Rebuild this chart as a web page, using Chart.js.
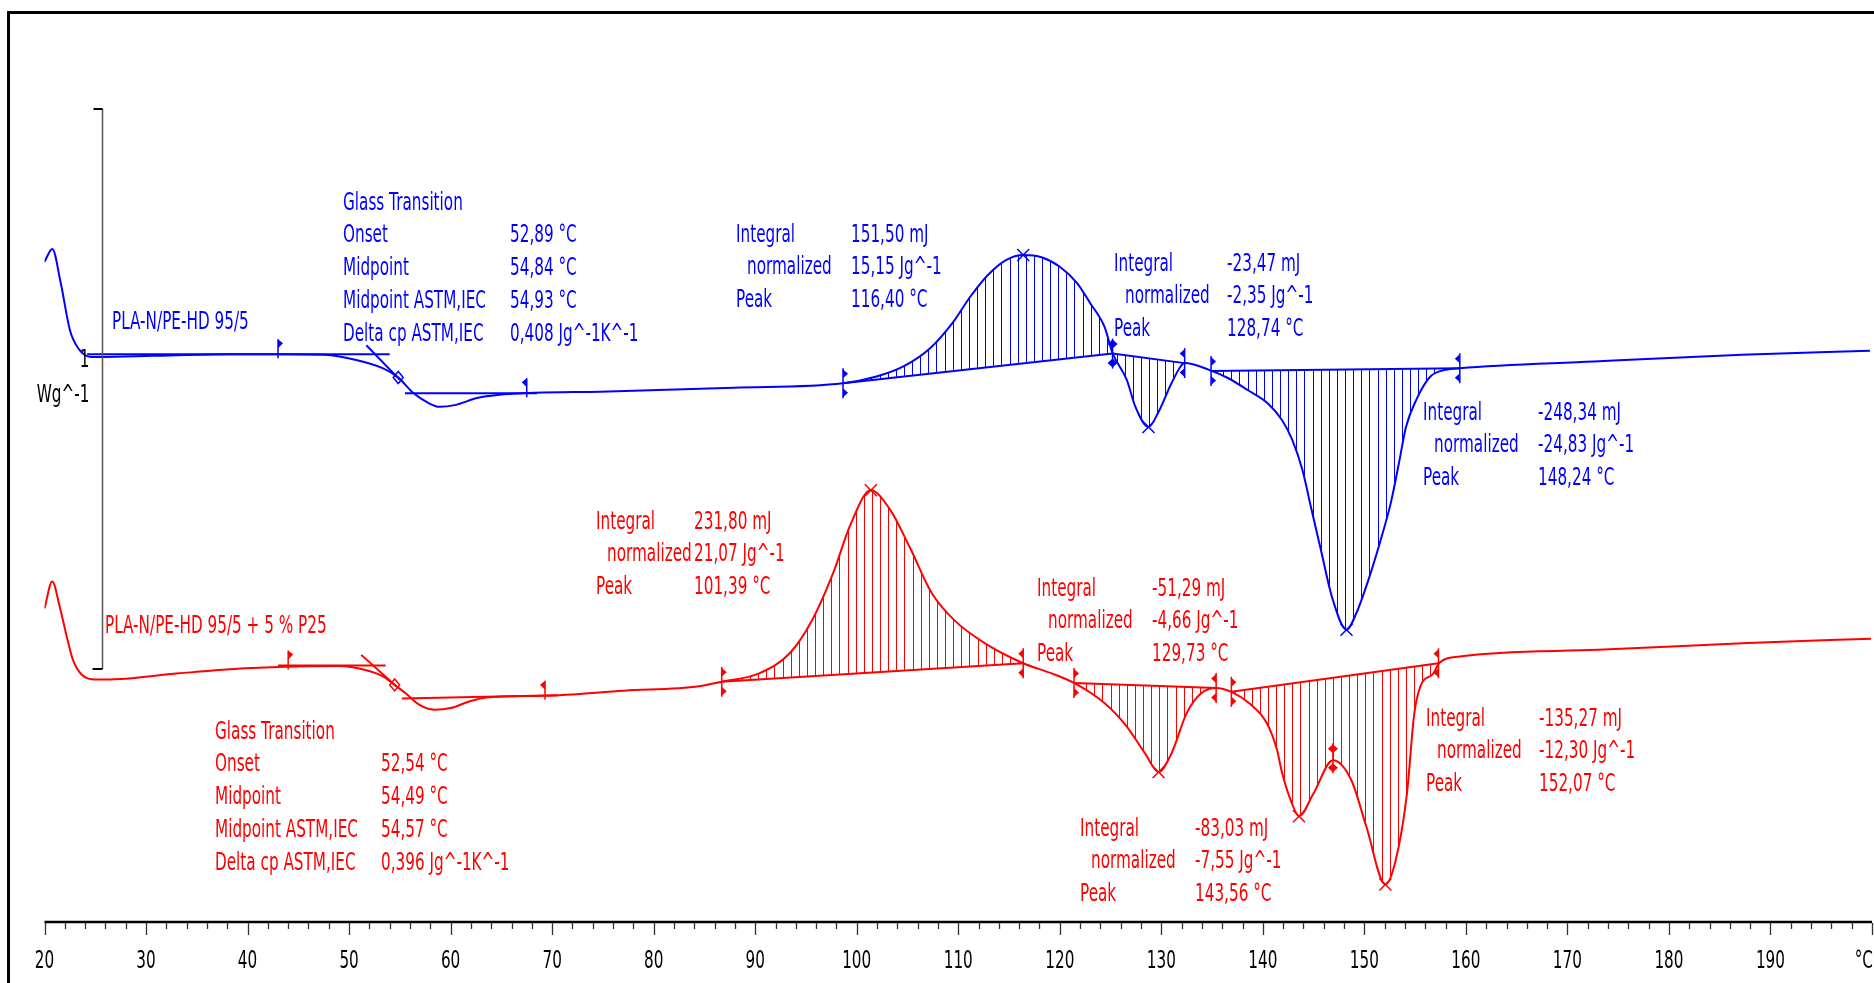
<!DOCTYPE html>
<html>
<head>
<meta charset="utf-8">
<title>DSC PLA-N/PE-HD</title>
<script src="https://cdn.jsdelivr.net/npm/chart.js@4.4.1/dist/chart.umd.min.js"></script>
<style>
    html, body { margin: 0; padding: 0; background: #fff; }
    canvas { display: block; }
</style>
</head>
<body>
<canvas id="dscChart" width="1874" height="983"></canvas>
<script>
/* Messkurven: Temperatur in °C, Wärmestrom in W/g */
const blueT = [20.0, 20.77, 21.6, 22.5, 23.3, 24.6, 25.8, 30.6, 38.2, 43.5, 47.6, 50.6, 53.3, 54.8, 56.3, 57.8, 58.9, 60.4, 62.7, 64.6, 68.4, 74.7, 87.9, 98.65, 101.95, 104.6, 107.2, 109.4, 111.2, 112.9, 114.7, 116.4, 118.2, 120.0, 121.7, 123.0, 124.4, 125.2, 126.6, 127.45, 128.74, 129.65, 131.0, 131.9, 132.3, 134.7, 136.6, 138.5, 140.5, 141.9, 142.9, 143.9, 144.8, 145.8, 146.8, 148.24, 149.2, 150.4, 151.7, 152.6, 153.4, 154.1, 155.1, 156.5, 158.0, 159.4, 172.6, 187.2, 199.8];
const blueHF = [1.179, 1.202, 1.141, 1.057, 1.025, 1.009, 1.009, 1.011, 1.014, 1.014, 1.013, 1.004, 0.989, 0.973, 0.945, 0.927, 0.920, 0.923, 0.936, 0.941, 0.945, 0.947, 0.954, 0.962, 0.974, 0.992, 1.024, 1.069, 1.117, 1.155, 1.182, 1.191, 1.187, 1.170, 1.141, 1.105, 1.063, 1.016, 0.968, 0.920, 0.884, 0.908, 0.962, 0.992, 0.998, 0.986, 0.971, 0.950, 0.926, 0.896, 0.861, 0.807, 0.736, 0.658, 0.581, 0.522, 0.551, 0.611, 0.688, 0.748, 0.819, 0.884, 0.932, 0.974, 0.986, 0.989, 1.001, 1.013, 1.020];

const redT = [20.0, 20.76, 21.5, 22.2, 22.8, 23.7, 25.0, 26.1, 33.2, 39.8, 43.7, 49.0, 51.6, 53.4, 54.3, 55.6, 56.9, 58.4, 60.0, 61.7, 63.5, 69.2, 77.1, 84.5, 86.7, 90.4, 93.4, 95.6, 97.8, 99.3, 101.39, 103.3, 105.2, 107.4, 109.6, 112.6, 116.4, 119.2, 121.4, 124.4, 126.6, 128.4, 129.73, 131.0, 132.5, 133.9, 135.4, 136.9, 138.7, 140.4, 141.4, 141.9, 142.8, 143.56, 145.0, 146.9, 148.7, 150.2, 152.07, 153.1, 154.2, 154.9, 155.5, 156.8, 157.4, 159.4, 173.0, 187.8, 199.9];
const redHF = [0.560, 0.608, 0.563, 0.509, 0.468, 0.441, 0.433, 0.433, 0.444, 0.453, 0.456, 0.457, 0.450, 0.438, 0.426, 0.408, 0.388, 0.379, 0.382, 0.393, 0.401, 0.404, 0.413, 0.421, 0.429, 0.444, 0.480, 0.539, 0.629, 0.706, 0.771, 0.736, 0.670, 0.587, 0.539, 0.498, 0.462, 0.444, 0.427, 0.391, 0.349, 0.301, 0.268, 0.301, 0.373, 0.408, 0.418, 0.411, 0.390, 0.355, 0.307, 0.266, 0.215, 0.189, 0.230, 0.289, 0.254, 0.170, 0.067, 0.111, 0.230, 0.370, 0.420, 0.444, 0.463, 0.474, 0.486, 0.498, 0.506];

/* Glasübergang: Tangenten [T1, HF1, T2, HF2] */
const blueGlassLines = [[24.2, 1.014, 54.0, 1.014], [51.7, 1.030, 55.0, 0.968], [55.5, 0.944, 68.5, 0.944]];
const redGlassLines = [[43.0, 0.458, 53.6, 0.458], [51.2, 0.477, 54.7, 0.420], [55.2, 0.399, 70.5, 0.405]];
const blueGlassFlags = [[43.0, 1.014, 1], [67.5, 0.944, -1]];
const redGlassFlags = [[44.0, 0.458, 1], [69.3, 0.404, -1]];
const blueMidpoint = 54.84;
const redMidpoint = 54.49;

/* Integrale: [T-Start, HF-Start, T-Ende, HF-Ende] */
const blueIntegrals = [[98.65, 0.962, 125.2, 1.015], [125.2, 1.015, 132.3, 0.998], [134.9, 0.984, 159.4, 0.989]];
const redIntegrals = [[86.7, 0.429, 116.4, 0.462], [121.4, 0.427, 135.4, 0.418], [136.9, 0.411, 157.3, 0.462]];
const redSplitT = 146.9;

/* Peaks */
const bluePeaks = [116.40, 128.74, 148.24];
const redPeaks = [101.39, 129.73, 143.56, 152.07];

/* X-Achse */
const tickMinorStep = 2;
const tickLabels = ['20', '30', '40', '50', '60', '70', '80', '90', '100', '110', '120', '130', '140', '150', '160', '170', '180', '190'];

/* Ordinaten-Maßstab 1 Wg^-1 */
const scaleBarT = 25.62;
const scaleBarRange = [0.452, 1.452];

const BLUE = 'rgb(0, 0, 255)';
const RED = 'rgb(255, 0, 0)';
const FONT = '24px "DejaVu Sans"';
const SQUEEZE = 0.635;
const HATCH_STEP = 0.8;

/* Beschriftungen (Pixel-Layout) */
const blueTexts = [
    { x: 112, y: 320, rows: [['PLA-N/PE-HD 95/5']] },
    { x: 343, vx: 510, y: 201, rows: [['Glass Transition', ''], ['Onset', '52,89 °C'], ['Midpoint', '54,84 °C'], ['Midpoint ASTM,IEC', '54,93 °C'], ['Delta cp ASTM,IEC', '0,408 Jg^-1K^-1']] },
    { x: 736, vx: 851, y: 233, rows: [['Integral', '151,50 mJ'], ['  normalized', '15,15 Jg^-1'], ['Peak', '116,40 °C']] },
    { x: 1114, vx: 1227, y: 262, rows: [['Integral', '-23,47 mJ'], ['  normalized', '-2,35 Jg^-1'], ['Peak', '128,74 °C']] },
    { x: 1423, vx: 1538, y: 411, rows: [['Integral', '-248,34 mJ'], ['  normalized', '-24,83 Jg^-1'], ['Peak', '148,24 °C']] },
];
const redTexts = [
    { x: 105, y: 624, rows: [['PLA-N/PE-HD 95/5 + 5 % P25']] },
    { x: 215, vx: 381, y: 730, rows: [['Glass Transition', ''], ['Onset', '52,54 °C'], ['Midpoint', '54,49 °C'], ['Midpoint ASTM,IEC', '54,57 °C'], ['Delta cp ASTM,IEC', '0,396 Jg^-1K^-1']] },
    { x: 596, vx: 694, y: 520, rows: [['Integral', '231,80 mJ'], ['  normalized', '21,07 Jg^-1'], ['Peak', '101,39 °C']] },
    { x: 1037, vx: 1152, y: 587, rows: [['Integral', '-51,29 mJ'], ['  normalized', '-4,66 Jg^-1'], ['Peak', '129,73 °C']] },
    { x: 1426, vx: 1539, y: 717, rows: [['Integral', '-135,27 mJ'], ['  normalized', '-12,30 Jg^-1'], ['Peak', '152,07 °C']] },
    { x: 1080, vx: 1195, y: 827, rows: [['Integral', '-83,03 mJ'], ['  normalized', '-7,55 Jg^-1'], ['Peak', '143,56 °C']] },
];

function interp(ts, vs, t) {
    for (let i = 1; i < ts.length; i++) {
        if (t <= ts[i]) {
            const f = (t - ts[i - 1]) / (ts[i] - ts[i - 1]);
            return vs[i - 1] + f * (vs[i] - vs[i - 1]);
        }
    }
    return vs[vs.length - 1];
}

function drawText(ctx, str, x, cy, color, align = 'left') {
    ctx.save();
    ctx.font = FONT;
    ctx.fillStyle = color;
    ctx.textAlign = align;
    ctx.textBaseline = 'alphabetic';
    ctx.scale(SQUEEZE, 1);
    ctx.fillText(str, x / SQUEEZE, cy + 8.5);
    ctx.restore();
}

function drawBlocks(ctx, blocks, color) {
    blocks.forEach((b) => {
        b.rows.forEach((row, i) => {
            const cy = b.y + i * 32.8;
            const indent = row[0].startsWith('  ') ? 11 : 0;
            drawText(ctx, row[0].trim(), b.x + indent, cy, color);
            if (row[1]) drawText(ctx, row[1], b.vx, cy, color);
        });
    });
}

/* Kurvenpfad genau wie Chart.js (Bezier-Kontrollpunkte) */
function traceCurve(ctx, pts) {
    ctx.moveTo(pts[0].x, pts[0].y);
    for (let i = 1; i < pts.length; i++) {
        const a = pts[i - 1], b = pts[i];
        if (a.cp2x !== undefined && b.cp1x !== undefined) {
            ctx.bezierCurveTo(a.cp2x, a.cp2y, b.cp1x, b.cp1y, b.x, b.y);
        } else {
            ctx.lineTo(b.x, b.y);
        }
    }
}

function drawHatch(chart, dsIndex, ts, vs, regions, color) {
    const { ctx, chartArea, scales: { x, y } } = chart;
    const pts = chart.getDatasetMeta(dsIndex).data;
    regions.forEach(([t0, h0, t1, h1]) => {
        const up = interp(ts, vs, (t0 + t1) / 2) > (h0 + h1) / 2;
        const edge = up ? chartArea.bottom : chartArea.top;
        ctx.save();
        ctx.beginPath();
        traceCurve(ctx, pts);
        ctx.lineTo(pts[pts.length - 1].x, edge);
        ctx.lineTo(pts[0].x, edge);
        ctx.closePath();
        ctx.clip();
        ctx.strokeStyle = color;
        ctx.lineWidth = 1;
        ctx.beginPath();
        for (let t = t0 + HATCH_STEP / 2; t < t1; t += HATCH_STEP) {
            const px = Math.round(x.getPixelForValue(t)) + 0.5;
            const hb = h0 + (h1 - h0) * (t - t0) / (t1 - t0);
            ctx.moveTo(px, y.getPixelForValue(hb));
            ctx.lineTo(px, up ? chartArea.top : chartArea.bottom);
        }
        ctx.stroke();
        ctx.restore();
    });
}

/* Grenzmarke: senkrechter Strich mit Fähnchen oben und unten */
function limitMark(ctx, px, py, dir, color) {
    ctx.save();
    ctx.strokeStyle = color;
    ctx.fillStyle = color;
    ctx.lineWidth = 1.5;
    ctx.beginPath();
    ctx.moveTo(px, py - 15);
    ctx.lineTo(px, py + 15);
    ctx.stroke();
    const dirs = dir === 0 ? [1, -1] : [dir];
    dirs.forEach((d) => {
        [[-14, -5], [5, 14]].forEach(([a, b]) => {
            ctx.beginPath();
            ctx.moveTo(px, py + a);
            ctx.lineTo(px + 5 * d, py + (a + b) / 2);
            ctx.lineTo(px, py + b);
            ctx.closePath();
            ctx.fill();
        });
    });
    ctx.restore();
}

function glassFlag(ctx, px, py, dir, color) {
    ctx.save();
    ctx.strokeStyle = color;
    ctx.fillStyle = color;
    ctx.lineWidth = 1.5;
    ctx.beginPath();
    ctx.moveTo(px, py - 15);
    ctx.lineTo(px, py + 4);
    ctx.stroke();
    ctx.beginPath();
    ctx.moveTo(px, py - 15);
    ctx.lineTo(px + 5 * dir, py - 11);
    ctx.lineTo(px, py - 6);
    ctx.closePath();
    ctx.fill();
    ctx.restore();
}

function crossMark(ctx, px, py, color) {
    ctx.save();
    ctx.strokeStyle = color;
    ctx.lineWidth = 1.5;
    ctx.beginPath();
    ctx.moveTo(px - 6, py - 6);
    ctx.lineTo(px + 6, py + 6);
    ctx.moveTo(px + 6, py - 6);
    ctx.lineTo(px - 6, py + 6);
    ctx.stroke();
    ctx.restore();
}

function diamondMark(ctx, px, py, color) {
    ctx.save();
    ctx.strokeStyle = color;
    ctx.lineWidth = 1.5;
    ctx.beginPath();
    ctx.moveTo(px, py - 6);
    ctx.lineTo(px + 5, py);
    ctx.lineTo(px, py + 6);
    ctx.lineTo(px - 5, py);
    ctx.closePath();
    ctx.stroke();
    ctx.restore();
}

const dscPlugin = {
    id: 'dscDecor',
    beforeDatasetsDraw(chart) {
        drawHatch(chart, 0, blueT, blueHF, blueIntegrals, BLUE);
        drawHatch(chart, 1, redT, redHF, redIntegrals, RED);
    },
    afterDatasetsDraw(chart) {
        const { ctx, scales: { x, y } } = chart;
        const px = (t) => x.getPixelForValue(t);
        const py = (v) => y.getPixelForValue(v);

        // Rahmen
        ctx.save();
        ctx.fillStyle = '#000';
        ctx.fillRect(7, 11, chart.width - 7, 3);
        ctx.fillRect(7, 11, 3, chart.height - 11);
        ctx.restore();

        // X-Achse mit Teilstrichen
        const y0 = py(0);
        ctx.save();
        ctx.strokeStyle = '#000';
        ctx.lineWidth = 2.5;
        ctx.beginPath();
        ctx.moveTo(px(20), y0);
        ctx.lineTo(px(200), y0);
        ctx.stroke();
        ctx.strokeStyle = '#333';
        ctx.lineWidth = 1.3;
        ctx.beginPath();
        for (let t = 20; t <= 200; t += tickMinorStep) {
            const xx = Math.round(px(t)) + 0.5;
            ctx.moveTo(xx, y0 + 1);
            ctx.lineTo(xx, y0 + (t % 10 === 0 ? 13 : 7));
        }
        ctx.stroke();
        ctx.restore();
        tickLabels.forEach((lbl) => drawText(ctx, lbl, px(Number(lbl)), 959, '#000', 'center'));
        drawText(ctx, '°C', px(200) + 1, 959, '#000', 'right');

        // Maßstab
        const bx = Math.round(px(scaleBarT)) + 0.5;
        const byTop = py(scaleBarRange[1]);
        const byBot = py(scaleBarRange[0]);
        ctx.save();
        ctx.strokeStyle = '#555';
        ctx.lineWidth = 1.5;
        ctx.beginPath();
        ctx.moveTo(bx, byTop);
        ctx.lineTo(bx, byBot);
        ctx.stroke();
        ctx.strokeStyle = '#000';
        ctx.lineWidth = 2;
        ctx.beginPath();
        ctx.moveTo(bx - 9, byTop);
        ctx.lineTo(bx, byTop);
        ctx.moveTo(bx - 10, byBot);
        ctx.lineTo(bx, byBot);
        ctx.stroke();
        ctx.restore();
        drawText(ctx, '1', bx - 13, py(1) - 4, '#000', 'right');
        drawText(ctx, 'Wg^-1', bx - 13, 393, '#000', 'right');

        // Glasübergang
        blueGlassFlags.forEach(([t, v, d]) => glassFlag(ctx, px(t), py(v), d, BLUE));
        redGlassFlags.forEach(([t, v, d]) => glassFlag(ctx, px(t), py(v), d, RED));
        diamondMark(ctx, px(blueMidpoint), py(interp(blueT, blueHF, blueMidpoint)), BLUE);
        diamondMark(ctx, px(redMidpoint), py(interp(redT, redHF, redMidpoint)), RED);

        // Integrationsgrenzen
        const marks = (list, color) => {
            list.forEach(([t0, h0, t1, h1], i) => {
                const shared = i > 0 && list[i - 1][2] === t0;
                limitMark(ctx, px(t0), py(h0), shared ? 0 : 1, color);
                const next = list[i + 1];
                if (!(next && next[0] === t1)) limitMark(ctx, px(t1), py(h1), -1, color);
            });
        };
        marks(blueIntegrals, BLUE);
        marks(redIntegrals, RED);
        limitMark(ctx, px(redSplitT), py(interp(redT, redHF, redSplitT)) - 2, 0, RED);

        // Peaks
        bluePeaks.forEach((t) => crossMark(ctx, px(t), py(interp(blueT, blueHF, t)), BLUE));
        redPeaks.forEach((t) => crossMark(ctx, px(t), py(interp(redT, redHF, t)), RED));

        // Texte
        drawBlocks(ctx, blueTexts, BLUE);
        drawBlocks(ctx, redTexts, RED);
    }
};

const toPoints = (ts, vs) => ts.map((t, i) => ({ x: t, y: vs[i] }));
const segment = (s, color) => ({
    data: [{ x: s[0], y: s[1] }, { x: s[2], y: s[3] }],
    borderColor: color,
    borderWidth: 2,
    tension: 0,
});

new Chart(document.getElementById('dscChart').getContext('2d'), {
    type: 'line',
    data: {
        datasets: [
            { data: toPoints(blueT, blueHF), borderColor: BLUE, borderWidth: 2, cubicInterpolationMode: 'monotone' },
            { data: toPoints(redT, redHF), borderColor: RED, borderWidth: 2, cubicInterpolationMode: 'monotone' },
            ...blueGlassLines.map((s) => segment(s, BLUE)),
            ...redGlassLines.map((s) => segment(s, RED)),
            ...blueIntegrals.map((s) => segment(s, BLUE)),
            ...redIntegrals.map((s) => segment(s, RED)),
        ],
    },
    options: {
        responsive: false,
        animation: false,
        layout: { padding: { left: 44.5, right: 2, top: 12, bottom: 61 } },
        elements: { point: { radius: 0 } },
        scales: {
            x: { type: 'linear', min: 20, max: 200, display: false },
            y: { min: 0, max: 1.625, display: false },
        },
        plugins: { legend: { display: false }, tooltip: { enabled: false } },
    },
    plugins: [dscPlugin],
});
</script>
</body>
</html>
